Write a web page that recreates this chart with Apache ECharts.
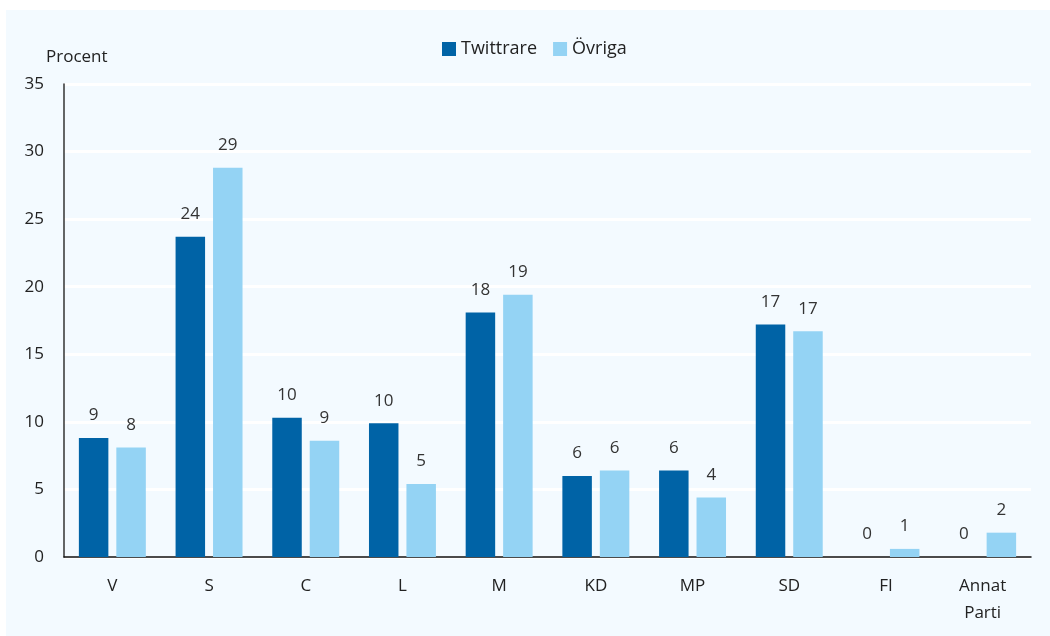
<!DOCTYPE html>
<html>
<head>
<meta charset="utf-8">
<script src="https://cdn.jsdelivr.net/npm/echarts@6/dist/echarts.min.js"></script>
<style>
  html, body { margin: 0; padding: 0; background: #fff; }
  #chart { position: absolute; left: 6px; top: 10px; width: 1044px; height: 626px; background: #f3faff; }
</style>
</head>
<body>
<div id="chart"></div>
<script>
// partier
const categories = ['V', 'S', 'C', 'L', 'M', 'KD', 'MP', 'SD', 'FI', 'Annat\nParti']
const twittrare = [8.8, 23.7, 10.3, 9.9, 18.1, 6.0, 6.4, 17.2, 0, 0]
const ovriga = [8.1, 28.8, 8.6, 5.4, 19.4, 6.4, 4.4, 16.7, 0.6, 1.8]
const yTicks = [0, 5, 10, 15, 20, 25, 30, 35]

const font = '"Open Sans", sans-serif'
const myChart = echarts.init(document.getElementById('chart'))

const label = {
  show: true,
  position: 'top',
  distance: 14,
  color: '#333',
  fontSize: 17,
  fontFamily: font,
  formatter: (p) => Math.round(p.value),
}

const option = {
  animation: false,
  title: {
    text: 'Procent',
    left: 35,
    top: 34,
    textStyle: { fontSize: 17, fontWeight: 'normal', color: '#222', fontFamily: font },
  },
  legend: {
    top: 25,
    left: 431,
    itemWidth: 14,
    itemHeight: 14,
    itemGap: 16,
    icon: 'rect',
    textStyle: { fontSize: 18, color: '#222', fontFamily: font },
  },
  grid: { left: 58, right: 19, top: 74, bottom: 79 },
  xAxis: {
    type: 'category',
    data: categories,
    axisLine: { lineStyle: { color: '#111', width: 1.5 } },
    axisTick: { show: false },
    axisLabel: { fontSize: 17, color: '#222', fontFamily: font, margin: 16, lineHeight: 27 },
  },
  yAxis: {
    type: 'value',
    min: yTicks[0],
    max: yTicks[yTicks.length - 1],
    interval: 5,
    axisLine: { show: true, lineStyle: { color: '#333', width: 1.5 } },
    axisTick: { show: false },
    axisLabel: { fontSize: 17, color: '#222', fontFamily: font, margin: 20 },
    splitLine: { lineStyle: { color: '#ffffff', width: 3 } },
  },
  series: [
    {
      name: 'Twittrare',
      type: 'bar',
      data: twittrare,
      barWidth: '30.5%',
      barGap: '27%',
      itemStyle: { color: '#0063a6' },
      label: label,
    },
    {
      name: 'Övriga',
      type: 'bar',
      data: ovriga,
      barWidth: '30.5%',
      itemStyle: { color: '#94d3f4' },
      label: label,
    },
  ],
}
myChart.setOption(option)
</script>
</body>
</html>
